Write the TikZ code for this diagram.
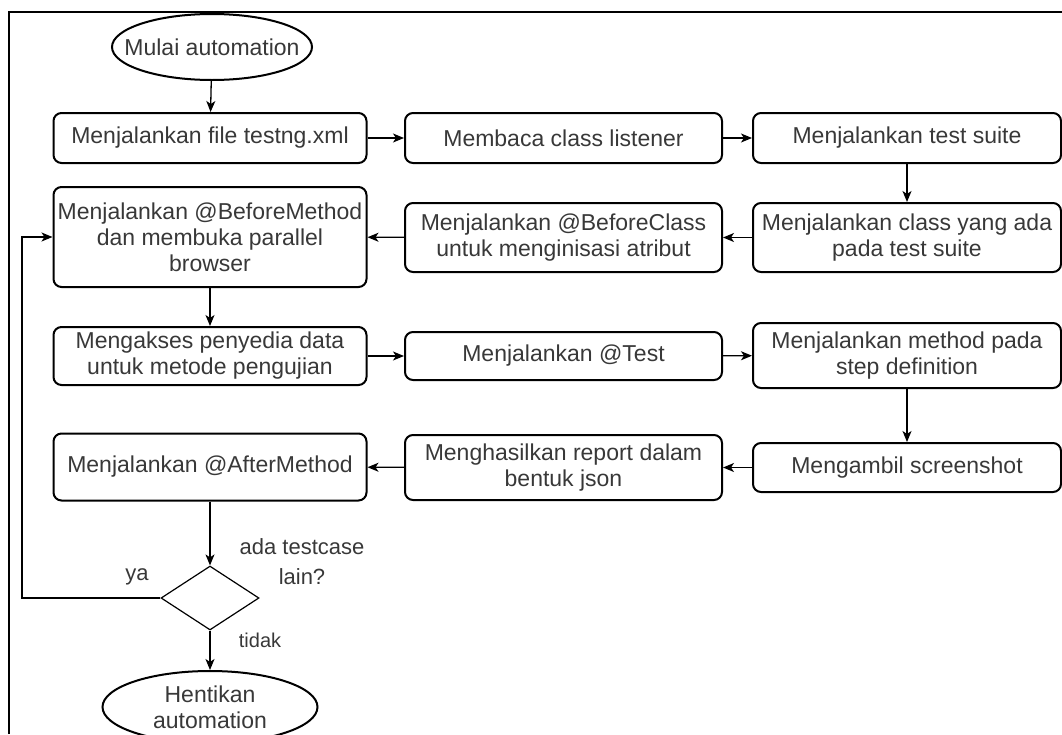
\documentclass[tikz,border=0pt]{standalone}
\usepackage{fontspec}
\setmainfont{Liberation Sans}
\usepackage{tikz}
\usetikzlibrary{arrows.meta,shapes.geometric}

\begin{document}
\begin{tikzpicture}[x=1pt,y=-1pt]
\useasboundingbox (0,0) rectangle (1062,734);
% frame of the page
\draw[line width=1.5pt] (9,734) -- (9,12) -- (1062,12);

\begin{scope}[every node/.style={draw,line width=2pt,rounded corners=8pt,align=center,
                                 text=black!78,inner sep=0pt,
                                 font=\fontsize{23}{26}\selectfont}]
    \node[ellipse,rounded corners=0pt,inner xsep=-30pt,minimum width=200pt,minimum height=66pt] (start) at (212,47) {Mulai automation};
    \node[minimum width=313pt,minimum height=50pt] (file) at (210,138) {Menjalankan file testng.xml};
    \node[minimum width=317pt,minimum height=50pt] (listener) at (563.5,138) {Membaca class listener};
    \node[minimum width=308pt,minimum height=50pt] (suite) at (907,138) {Menjalankan test suite};

    \node[minimum width=313pt,minimum height=100pt] (bm) at (210,237) {Menjalankan @BeforeMethod\\dan membuka parallel\\browser};
    \node[minimum width=317pt,minimum height=69pt] (bc) at (563.5,237.5) {Menjalankan @BeforeClass\\untuk menginisasi atribut};
    \node[minimum width=308pt,minimum height=69pt] (cls) at (907,237.5) {Menjalankan class yang ada\\pada test suite};

    \node[minimum width=313pt,minimum height=58pt] (data) at (210,356) {Mengakses penyedia data\\untuk metode pengujian};
    \node[minimum width=317pt,minimum height=48pt] (test) at (563.5,356) {Menjalankan @Test};
    \node[minimum width=308pt,minimum height=65pt] (step) at (907,355.5) {Menjalankan method pada\\step definition};

    \node[minimum width=313pt,minimum height=67pt] (am) at (210,467) {Menjalankan @AfterMethod};
    \node[minimum width=317pt,minimum height=65pt] (report) at (563.5,467.5) {Menghasilkan report dalam\\bentuk json};
    \node[minimum width=308pt,minimum height=49pt] (shot) at (907,467.5) {Mengambil screenshot};

    \node[diamond,line width=1.2pt,rounded corners=0pt,minimum width=98pt,minimum height=64pt] (dec) at (210,598) {};
    \node[ellipse,rounded corners=0pt,minimum width=215pt,minimum height=72pt] (stop) at (210,707) {Hentikan\\automation};
\end{scope}

\begin{scope}[every node/.style={align=center,text=black!78,inner sep=0pt,
                                 font=\fontsize{22}{30}\selectfont}]
    \node (ask) at (302,562) {ada testcase\\lain?};
    \node (yes) at (137,577) {ya};
    \node[font=\fontsize{20}{24}\selectfont] (no) at (260,640) {tidak};
\end{scope}

\coordinate (back) at (22,598);

\begin{scope}[>={Stealth[length=11pt,width=9pt,inset=3pt]},
              every edge/.style={draw,line width=1.3pt}]
    \path [->] (start) edge (file);
    \path [->] (file) edge (listener);
    \path [->] (listener) edge (suite);
    \path [->] (suite) edge (cls);
    \path [->] (cls) edge (bc);
    \path [->] (bc) edge (bm);
    \path [->] (bm) edge (data);
    \path [->] (data) edge (test);
    \path [->] (test) edge (step);
    \path [->] (step) edge (shot);
    \path [->] (shot) edge (report);
    \path [->] (report) edge (am);
    \path [->] (am) edge (dec);
    \path [->] (dec) edge (stop);
    \draw [->,line width=1.3pt] (dec) -- (back) |- (bm);
\end{scope}
\end{tikzpicture}
\end{document}
